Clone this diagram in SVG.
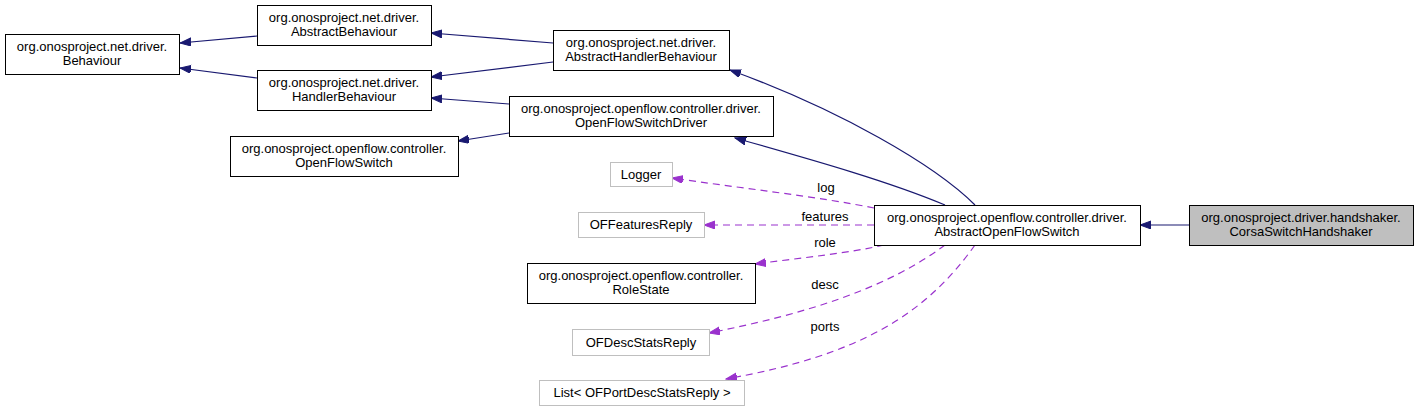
<svg xmlns="http://www.w3.org/2000/svg" width="1419" height="412" viewBox="0 0 1419 412">
<style>
text{font-family:"Liberation Sans",Arial,sans-serif;font-size:13px;fill:#000;text-anchor:middle}
.n{fill:#fff;stroke:#000;stroke-width:1}
.g{fill:#fff;stroke:#bfbfbf;stroke-width:1}
.cur{fill:#bfbfbf;stroke:#000;stroke-width:1}
.e{fill:none;stroke:#191970;stroke-width:1.2;marker-end:url(#ab)}
.d{fill:none;stroke:#9a32cd;stroke-width:1.2;stroke-dasharray:7,5;marker-end:url(#ap)}
</style>
<defs>
<marker id="ab" markerUnits="userSpaceOnUse" markerWidth="12" markerHeight="9" refX="11" refY="4" orient="auto"><path d="M0,0 L11,4 L0,8 z" fill="#191970" stroke="#191970"/></marker>
<marker id="ap" markerUnits="userSpaceOnUse" markerWidth="12" markerHeight="9" refX="11" refY="4" orient="auto"><path d="M0,0 L11,4 L0,8 z" fill="#9a32cd" stroke="#9a32cd"/></marker>
</defs>
<rect width="1419" height="412" fill="#fff"/>
<g id="connectors">
<path class="e" d="M257,36 L180,43"/>
<path class="e" d="M257,78 L180,68"/>
<path class="e" d="M553,43 L431,33"/>
<path class="e" d="M553,62 L431,77"/>
<path class="e" d="M509,104 L431,98"/>
<path class="e" d="M509,133 L458,141"/>
<path class="e" d="M975,205 C935,165 840,110 730,70"/>
<path class="e" d="M945,205 C890,182 820,162 735,138"/>
<path class="e" d="M1189,225 L1140,225"/>
<path class="d" d="M874,208 C820,197 740,188 672,178"/>
<path class="d" d="M874,225 L704,225"/>
<path class="d" d="M884,245 C850,253 800,258 755,264"/>
<path class="d" d="M945,245 C885,290 800,315 709,333"/>
<path class="d" d="M975,245 C925,315 860,355 726,379"/>
<text x="826" y="192">log</text>
<text x="825" y="221">features</text>
<text x="825" y="247">role</text>
<text x="825" y="289">desc</text>
<text x="825" y="331">ports</text>
</g>
<g id="Behaviour"><rect class="n" x="5.5" y="34.5" width="174" height="40"/><text x="92" y="51">org.onosproject.net.driver.</text><text x="92" y="65">Behaviour</text></g>
<g id="AbstractBehaviour"><rect class="n" x="257.5" y="5.5" width="174" height="40"/><text x="344" y="22">org.onosproject.net.driver.</text><text x="344" y="36">AbstractBehaviour</text></g>
<g id="HandlerBehaviour"><rect class="n" x="257.5" y="70.5" width="174" height="40"/><text x="344" y="87">org.onosproject.net.driver.</text><text x="344" y="101">HandlerBehaviour</text></g>
<g id="OpenFlowSwitch"><rect class="n" x="230.5" y="136.5" width="228" height="40"/><text x="344" y="153">org.onosproject.openflow.controller.</text><text x="344" y="167">OpenFlowSwitch</text></g>
<g id="AbstractHandlerBehaviour"><rect class="n" x="553.5" y="30.5" width="176" height="40"/><text x="641" y="47">org.onosproject.net.driver.</text><text x="641" y="61">AbstractHandlerBehaviour</text></g>
<g id="OpenFlowSwitchDriver"><rect class="n" x="509.5" y="96.5" width="264" height="40"/><text x="641" y="113">org.onosproject.openflow.controller.driver.</text><text x="641" y="127">OpenFlowSwitchDriver</text></g>
<g id="Logger"><rect class="g" x="610.5" y="162.5" width="62" height="24"/><text x="641" y="179">Logger</text></g>
<g id="OFFeaturesReply"><rect class="g" x="578.5" y="212.5" width="126" height="25"/><text x="641" y="229">OFFeaturesReply</text></g>
<g id="RoleState"><rect class="n" x="527.5" y="263.5" width="228" height="40"/><text x="641" y="280">org.onosproject.openflow.controller.</text><text x="641" y="294">RoleState</text></g>
<g id="OFDescStatsReply"><rect class="g" x="572.5" y="329.5" width="137" height="26"/><text x="641" y="347">OFDescStatsReply</text></g>
<g id="ListPorts"><rect class="g" x="539.5" y="380.5" width="205" height="25"/><text x="642" y="397">List&lt; OFPortDescStatsReply &gt;</text></g>
<g id="AbstractOpenFlowSwitch"><rect class="n" x="874.5" y="205.5" width="266" height="40"/><text x="1007" y="222">org.onosproject.openflow.controller.driver.</text><text x="1007" y="236">AbstractOpenFlowSwitch</text></g>
<g id="CorsaSwitchHandshaker"><rect class="cur" x="1189.5" y="205.5" width="224" height="40"/><text x="1301" y="222">org.onosproject.driver.handshaker.</text><text x="1301" y="236">CorsaSwitchHandshaker</text></g>
</svg>
